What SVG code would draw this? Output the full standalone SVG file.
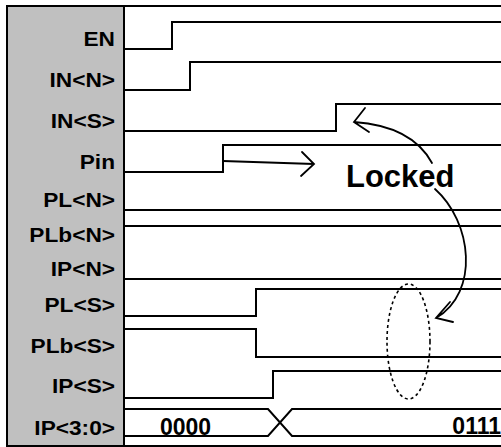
<svg xmlns="http://www.w3.org/2000/svg" width="501" height="447" viewBox="0 0 501 447">
  <style>
    .sig { fill: none; stroke: #000; stroke-width: 2; stroke-linejoin: miter; }
    .lbl { font-family: "Liberation Sans", Arial, sans-serif; font-weight: bold; font-size: 21px; fill: #000; text-anchor: end; }
    .val { font-family: "Liberation Sans", Arial, sans-serif; font-weight: bold; font-size: 23px; fill: #000; }
    .arr { fill: none; stroke: #000; stroke-width: 1.8; stroke-linecap: round; }
  </style>
  <rect width="501" height="447" fill="#fff"/>

  <!-- label panel and frame -->
  <g id="panel">
    <rect x="7" y="6" width="117" height="440" fill="#c0c0c0" stroke="#000" stroke-width="2"/>
    <line x1="124" y1="6" x2="501" y2="6" class="sig"/>
    <line x1="124" y1="446" x2="501" y2="446" class="sig"/>
  </g>

  <!-- signal names -->
  <g id="labels">
    <text class="lbl" transform="translate(115,46) scale(1.08,1)">EN</text>
    <text class="lbl" transform="translate(115,87) scale(1.08,1)">IN&lt;N&gt;</text>
    <text class="lbl" transform="translate(115,128) scale(1.08,1)">IN&lt;S&gt;</text>
    <text class="lbl" transform="translate(115,169) scale(1.08,1)">Pin</text>
    <text class="lbl" transform="translate(115,207) scale(1.08,1)">PL&lt;N&gt;</text>
    <text class="lbl" transform="translate(115,242) scale(1.08,1)">PLb&lt;N&gt;</text>
    <text class="lbl" transform="translate(115,276) scale(1.08,1)">IP&lt;N&gt;</text>
    <text class="lbl" transform="translate(115,312) scale(1.08,1)">PL&lt;S&gt;</text>
    <text class="lbl" transform="translate(115,353) scale(1.08,1)">PLb&lt;S&gt;</text>
    <text class="lbl" transform="translate(115,393) scale(1.08,1)">IP&lt;S&gt;</text>
    <text class="lbl" transform="translate(115,435) scale(1.08,1)">IP&lt;3:0&gt;</text>
  </g>

  <!-- waveforms -->
  <g id="waves">
    <polyline id="w-en" class="sig" points="124,49 172,49 172,22 501,22"/>
    <polyline id="w-in-n" class="sig" points="124,90 190,90 190,62 501,62"/>
    <polyline id="w-in-s" class="sig" points="124,131 336,131 336,104 501,104"/>
    <polyline id="w-pin" class="sig" points="124,172 223,172 223,145 501,145"/>
    <line id="w-pl-n" class="sig" x1="124" y1="210" x2="501" y2="210"/>
    <line id="w-plb-n" class="sig" x1="124" y1="226" x2="501" y2="226"/>
    <line id="w-ip-n" class="sig" x1="124" y1="279" x2="501" y2="279"/>
    <polyline id="w-pl-s" class="sig" points="124,316 256,316 256,289 501,289"/>
    <polyline id="w-plb-s" class="sig" points="124,329 256,329 256,357 501,357"/>
    <polyline id="w-ip-s" class="sig" points="124,398 273,398 273,371 501,371"/>
    <polyline id="w-bus-top" class="sig" points="124,409 268,409 292,436 501,436"/>
    <polyline id="w-bus-bot" class="sig" points="124,436 268,436 292,409 501,409"/>
    <text class="val" x="160" y="435">0000</text>
    <text class="val" x="501" y="434" text-anchor="end">0111</text>
  </g>

  <!-- annotations -->
  <g id="connectors">
    <path class="arr" d="M223,161 L314,164 M302,152 L314,164 L301,176"/>
    <path class="arr" d="M432,163 Q412,126 354,122 M365,108 L354,122 L369,132"/>
    <path class="arr" d="M435,189 C472,222 480,292 436,318 M450,302 L436,318 L453,322"/>
    <ellipse cx="408.5" cy="341.5" rx="21.5" ry="57.5" fill="none" stroke="#000" stroke-width="1.6" stroke-dasharray="3 3"/>
  </g>
  <g id="locked">
    <text x="346" y="187" font-family="Liberation Sans, Arial, sans-serif" font-weight="bold" font-size="31" fill="#000">Locked</text>
  </g>
</svg>
